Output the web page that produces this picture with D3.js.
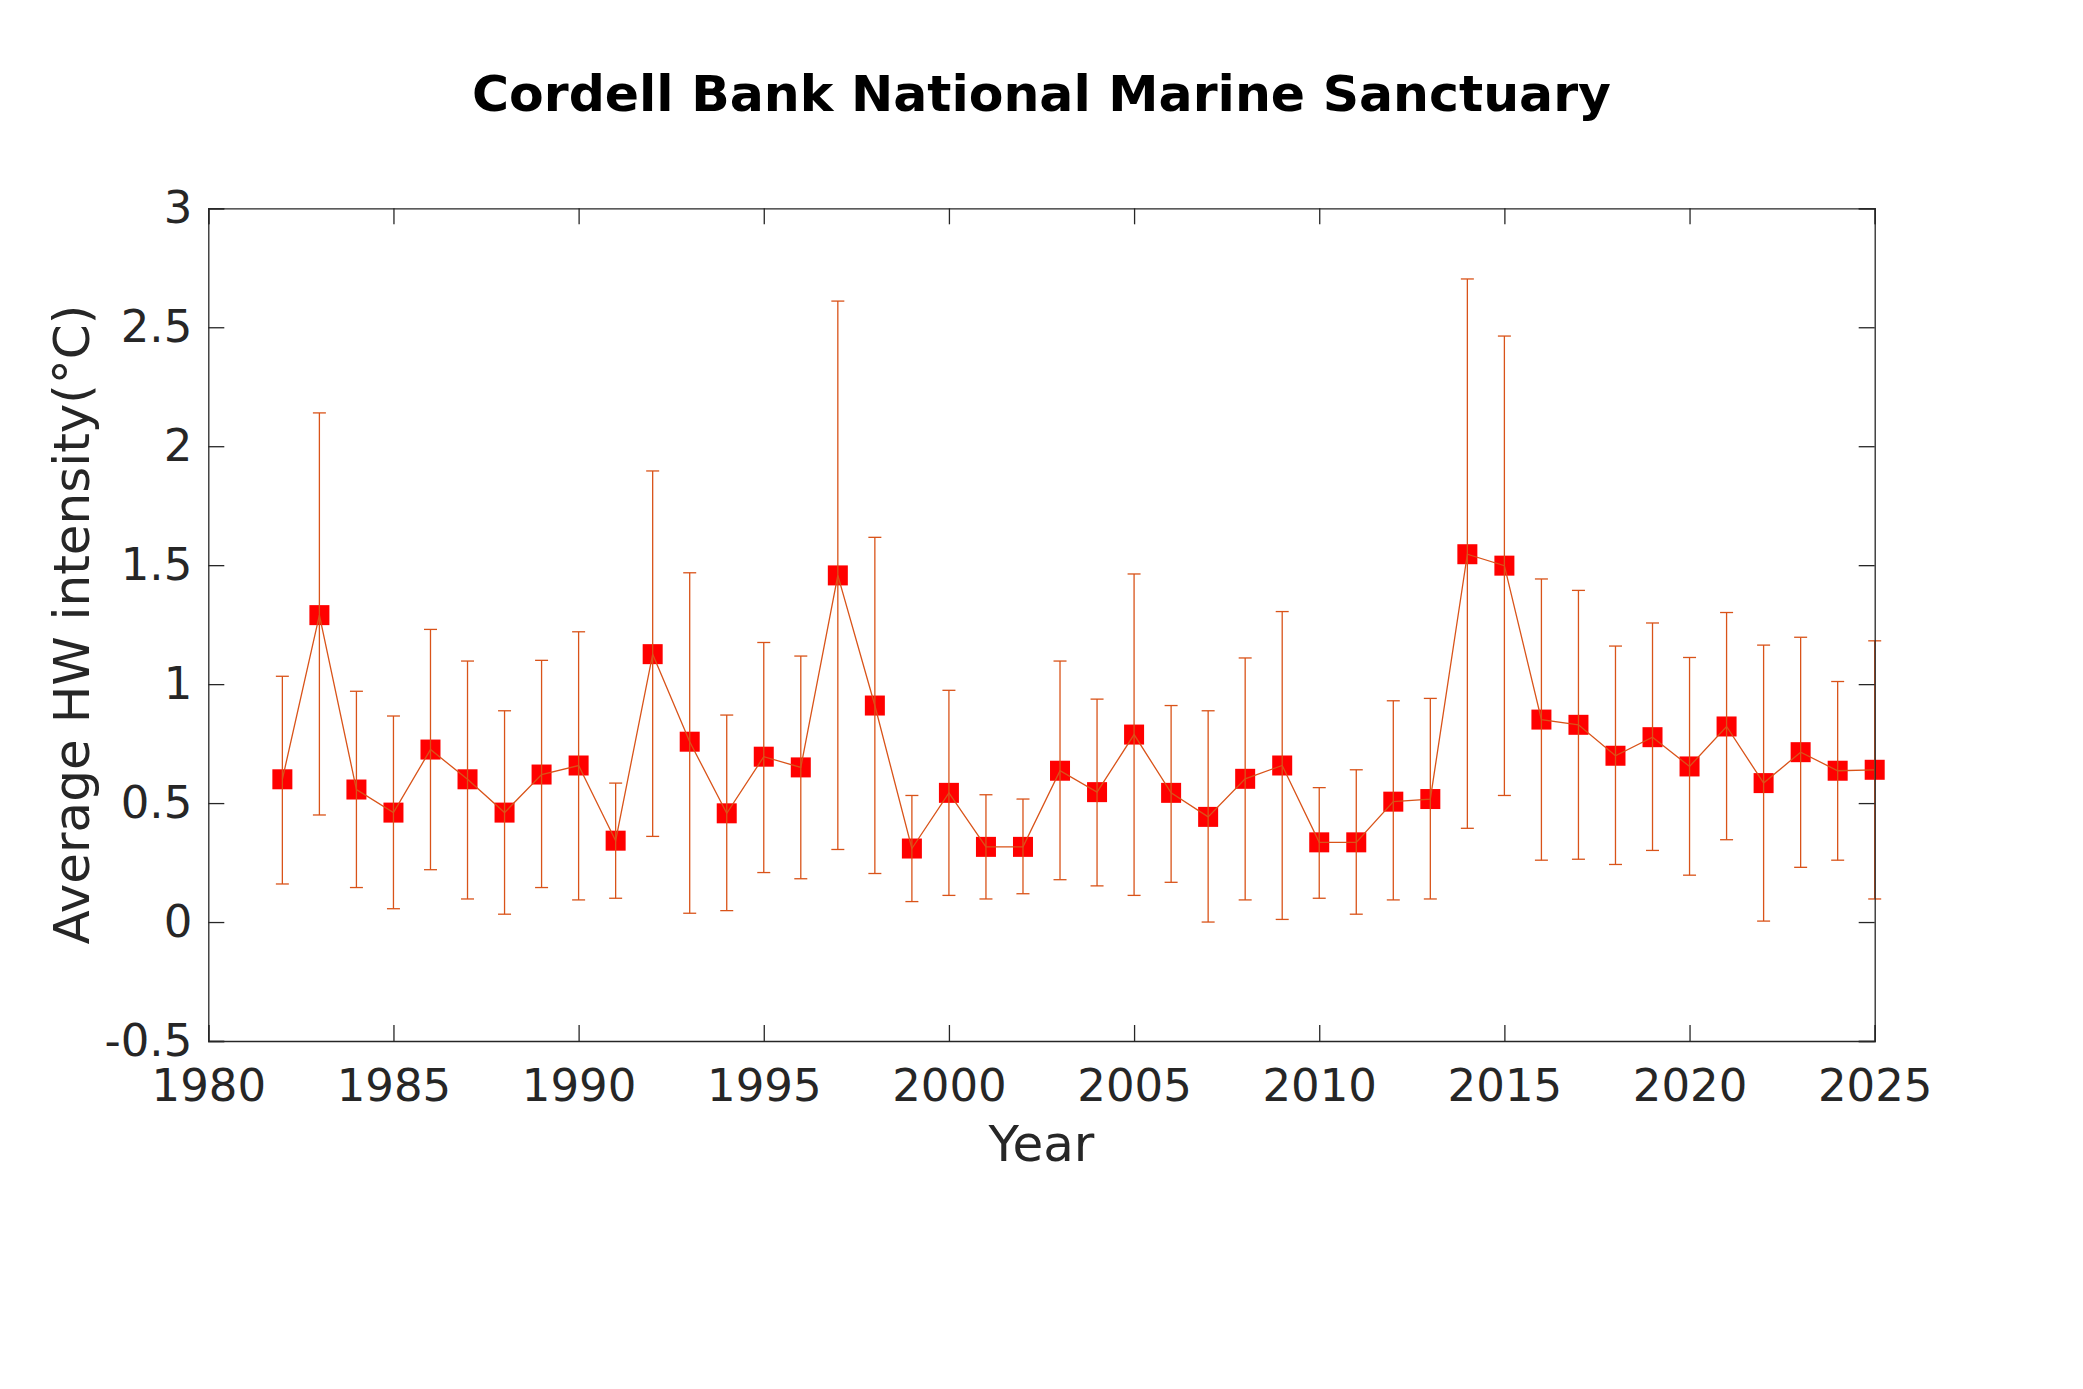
<!DOCTYPE html>
<html>
<head>
<meta charset="utf-8">
<script src="https://cdn.jsdelivr.net/npm/d3@7"></script>
<style>
body {margin:0; background:#ffffff;}
svg {display:block; font-family:"DejaVu Sans", sans-serif;}
</style>
</head>
<body>
<svg></svg>
<script>
//years of the heat waves
var years = [1982,1983,1984,1985,1986,1987,1988,1989,1990,1991,
             1992,1993,1994,1995,1996,1997,1998,1999,2000,2001,
             2002,2003,2004,2005,2006,2007,2008,2009,2010,2011,
             2012,2013,2014,2015,2016,2017,2018,2019,2020,2021,
             2022,2023,2024,2025];

//average intensity for each year
var meanValues = [0.60,1.29,0.557,0.46,0.725,0.60,0.46,0.62,0.658,0.342,
                  1.126,0.758,0.457,0.695,0.65,1.457,0.91,0.309,0.543,0.316,
                  0.316,0.636,0.546,0.788,0.543,0.442,0.602,0.658,0.335,0.335,
                  0.506,0.517,1.546,1.498,0.851,0.829,0.699,0.777,0.654,0.822,
                  0.584,0.714,0.636,0.64];

//top end of the error bars
var upperValues = [1.033,2.14,0.97,0.866,1.23,1.097,0.888,1.10,1.22,0.584,
                   1.896,1.468,0.87,1.175,1.118,2.61,1.617,0.532,0.974,0.535,
                   0.517,1.097,0.937,1.463,0.91,0.888,1.11,1.305,0.565,0.64,
                   0.93,0.94,2.703,2.463,1.442,1.394,1.16,1.257,1.112,1.301,
                   1.164,1.197,1.011,1.182];

//bottom end of the error bars
var lowerValues = [0.16,0.45,0.145,0.056,0.22,0.097,0.033,0.145,0.093,0.10,
                   0.36,0.037,0.048,0.208,0.182,0.305,0.204,0.086,0.112,0.097,
                   0.119,0.178,0.152,0.112,0.167,0.0,0.093,0.011,0.10,0.033,
                   0.093,0.097,0.394,0.532,0.26,0.264,0.242,0.301,0.197,0.346,
                   0.004,0.23,0.26,0.097];

var xTicks = [1980,1985,1990,1995,2000,2005,2010,2015,2020,2025];
var yTicks = [-0.5,0,0.5,1,1.5,2,2.5,3];

var lineColor = "#D95319";
var axisColor = "#262626";

var makeTranslateString = function(x,y)
{
    return "translate("+x+","+y+")";
}

//draws the box around the plot with ticks on all four sides
var drawAxes = function(graph,target,xScale,yScale)
{
    var tickLen = 16;

    var bottom = d3.axisBottom(xScale)
        .tickValues(xTicks)
        .tickSize(-tickLen)
        .tickPadding(28)
        .tickFormat(d3.format("d"));
    var top = d3.axisTop(xScale)
        .tickValues(xTicks)
        .tickSize(-tickLen)
        .tickFormat("");
    var left = d3.axisLeft(yScale)
        .tickValues(yTicks)
        .tickSize(-tickLen)
        .tickPadding(16)
        .tickFormat(function(d){ return String(d); });
    var right = d3.axisRight(yScale)
        .tickValues(yTicks)
        .tickSize(-tickLen)
        .tickFormat("");

    target.append("g")
        .attr("transform",makeTranslateString(0,graph.height))
        .call(bottom);
    target.append("g").call(top);
    target.append("g").call(left);
    target.append("g")
        .attr("transform",makeTranslateString(graph.width,0))
        .call(right);

    target.selectAll(".domain")
        .attr("stroke",axisColor)
        .attr("stroke-width",1.3);
    target.selectAll(".tick line")
        .attr("stroke",axisColor)
        .attr("stroke-width",1.3);
    target.selectAll(".tick text")
        .attr("fill",axisColor)
        .style("font-family","DejaVu Sans")
        .style("font-size","45px");
}

//markers, connecting line and error bars
var drawPoints = function(target,xScale,yScale)
{
    var rows = years.map(function(y,i)
    {
        return {year:y, mean:meanValues[i], hi:upperValues[i], lo:lowerValues[i]};
    });

    var size = 20;
    var cap = 6.5;

    target.selectAll("rect.marker")
        .data(rows)
        .enter()
        .append("rect")
        .attr("class","marker")
        .attr("x",function(d){ return xScale(d.year)-size/2; })
        .attr("y",function(d){ return yScale(d.mean)-size/2; })
        .attr("width",size)
        .attr("height",size)
        .attr("fill","#ff0000");

    var line = d3.line()
        .x(function(d){ return xScale(d.year); })
        .y(function(d){ return yScale(d.mean); });

    target.append("path")
        .datum(rows)
        .attr("d",line)
        .attr("fill","none")
        .attr("stroke",lineColor)
        .attr("stroke-width",1.3);

    var bars = target.selectAll("g.bar")
        .data(rows)
        .enter()
        .append("g")
        .attr("class","bar")
        .attr("stroke",lineColor)
        .attr("stroke-width",1.3);

    bars.append("line")
        .attr("x1",function(d){ return xScale(d.year); })
        .attr("x2",function(d){ return xScale(d.year); })
        .attr("y1",function(d){ return yScale(d.hi); })
        .attr("y2",function(d){ return yScale(d.lo); });
    bars.append("line")
        .attr("x1",function(d){ return xScale(d.year)-cap; })
        .attr("x2",function(d){ return xScale(d.year)+cap; })
        .attr("y1",function(d){ return yScale(d.hi); })
        .attr("y2",function(d){ return yScale(d.hi); });
    bars.append("line")
        .attr("x1",function(d){ return xScale(d.year)-cap; })
        .attr("x2",function(d){ return xScale(d.year)+cap; })
        .attr("y1",function(d){ return yScale(d.lo); })
        .attr("y2",function(d){ return yScale(d.lo); });
}

var drawLabels = function(svg,graph,margins)
{
    svg.append("text")
        .attr("x",margins.left+graph.width/2)
        .attr("y",111)
        .attr("text-anchor","middle")
        .attr("fill","#000000")
        .style("font-size","50.5px")
        .style("font-weight","bold")
        .text("Cordell Bank National Marine Sanctuary");

    svg.append("text")
        .attr("x",margins.left+graph.width/2)
        .attr("y",1161)
        .attr("text-anchor","middle")
        .attr("fill",axisColor)
        .style("font-size","50px")
        .text("Year");

    svg.append("text")
        .attr("transform",makeTranslateString(89,margins.top+graph.height/2)+" rotate(-90)")
        .attr("text-anchor","middle")
        .attr("fill",axisColor)
        .style("font-size","50px")
        .text("Average HW intensity(°C)");
}

var initGraph = function()
{
    var screen = {width:2083,height:1389};
    var margins = {left:208.3,right:208.3,top:208.3,bottom:348};

    var graph =
        {
            width:1874.7-margins.left,
            height:1041-margins.top
        };

    var svg = d3.select("svg")
        .attr("width",screen.width)
        .attr("height",screen.height);

    svg.append("rect")
        .attr("width",screen.width)
        .attr("height",screen.height)
        .attr("fill","#ffffff");

    var target = svg.append("g")
        .attr("id","graph")
        .attr("transform",makeTranslateString(margins.left,margins.top));

    var xScale = d3.scaleLinear()
        .domain([1980,2025])
        .range([0,graph.width]);

    var yScale = d3.scaleLinear()
        .domain([-0.5,3])
        .range([graph.height,0]);

    drawPoints(target,xScale,yScale);
    drawAxes(graph,target,xScale,yScale);
    drawLabels(svg,graph,margins);
}

initGraph();
</script>
</body>
</html>
